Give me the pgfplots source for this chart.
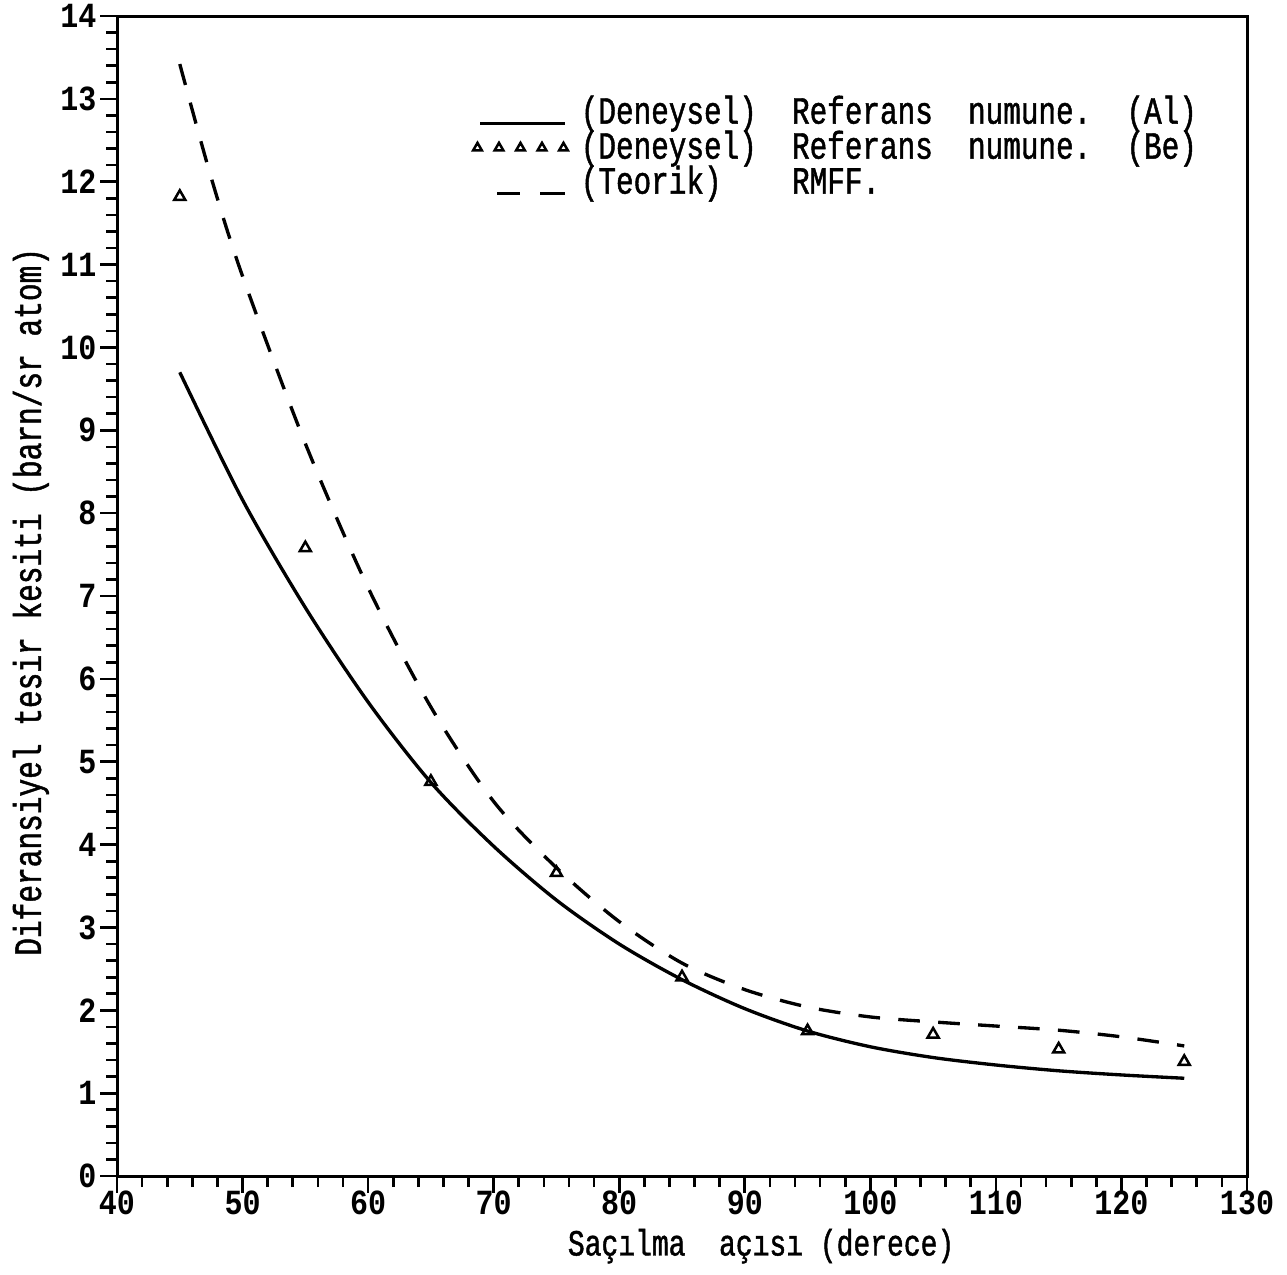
\documentclass[border=0pt]{standalone}
\usepackage{fontspec}
\setmainfont{Liberation Mono}[FakeStretch=0.85]
\newfontfamily\labfont{Liberation Mono}[FakeStretch=0.76, FakeBold=1.2]
\usepackage{pgfplots}
\pgfplotsset{compat=1.18}
\begin{document}
\begin{tikzpicture}
\begin{axis}[
  scale only axis, width=339pt, height=348pt,
  xmin=40, xmax=130, ymin=0, ymax=14,
  xtick={40,50,...,130}, ytick={0,1,...,14},
  minor x tick num=4, minor y tick num=4,
  tick align=outside, xtick pos=left, ytick pos=left,
  major tick length=5pt, minor tick length=3.3pt,
  axis line style={line width=0.9pt},
  every tick/.style={black, line width=0.8pt},
  /pgf/number format/assume math mode=true,
  xticklabel style={font=\bfseries\fontsize{10.6}{12}\selectfont, inner sep=0pt, yshift=0.8pt},
  yticklabel style={font=\bfseries\fontsize{10.6}{12}\selectfont, inner sep=1pt},
  xlabel={Saçılma~~açısı~(derece)},
  ylabel={Diferansiyel tesir kesiti (barn/sr atom)},
  xlabel style={font=\labfont\fontsize{11.05}{12}\selectfont, at={(axis description cs:0.570,-0.0685)}, anchor=base},
  ylabel style={font=\labfont\fontsize{11.64}{12}\selectfont, at={(axis description cs:-0.0673,0.495)}, anchor=base},
  legend style={at={(axis description cs:0.314,0.9296)}, anchor=north west, draw=none, fill=none,
    inner sep=0pt, column sep=2.5pt, row sep=0pt, font=\labfont\fontsize{11.58}{12}\selectfont,
    nodes={inner sep=0pt, text height=7.6pt, text depth=2.9pt}},
  legend cell align=left,
]
\addplot[line width=1pt, smooth,
  legend image code/.code={\path[draw=none, fill=none] (0pt,-3pt) rectangle (30pt,3pt);
    \draw[line width=0.9pt, solid] (2.4pt,-2.35pt) -- (27.9pt,-2.35pt);}]
  coordinates {(45,9.70) (50,8.16) (55,6.86) (60,5.72) (65,4.75) (70,3.98) (75,3.33) (80,2.80) (85,2.37) (90,2.02) (95,1.75) (100,1.56) (105,1.43) (110,1.34) (115,1.27) (120,1.22) (125,1.18)};
\addlegendentry{(Deneysel)~~Referans~~numune.~~(Al)}
\addplot[only marks, mark=triangle, mark size=1.9pt, mark options={line width=0.75pt, solid},
  legend image code/.code={\path[draw=none, fill=none] (0pt,-3pt) rectangle (30pt,3pt);
    \draw[line width=0.6pt] plot[only marks, mark=triangle, mark size=1.5pt] coordinates {(1.5pt,0.9pt) (7.95pt,0.9pt) (14.4pt,0.9pt) (20.85pt,0.9pt) (27.3pt,0.9pt)};}]
  coordinates {(45,11.82) (55,7.58) (65,4.76) (75,3.66) (85,2.40) (95,1.75) (105,1.71) (115,1.53) (125,1.38)};
\addlegendentry{(Deneysel)~~Referans~~numune.~~(Be)}
\addplot[line width=1pt, smooth, dash pattern=on 6.5pt off 5.5pt,
  legend image code/.code={\path[draw=none, fill=none] (0pt,-3pt) rectangle (30pt,3pt);
    \draw[line width=0.9pt, solid] (7.5pt,-2.35pt) -- (14.4pt,-2.35pt) (20.4pt,-2.35pt) -- (27.9pt,-2.35pt);}]
  coordinates {(45,13.42) (47.5,12.05) (50,10.86) (55,8.84) (60,7.10) (65,5.66) (70,4.52) (75,3.72) (80,3.07) (85,2.57) (90,2.25) (95,2.04) (100,1.92) (105,1.86) (110,1.81) (115,1.76) (120,1.68) (125,1.57)};
\addlegendentry{(Teorik)~~~~RMFF.}
\end{axis}
\path (current axis.south west) ++(-35.1pt,-27.6pt) rectangle ([shift={(12pt,4.8pt)}]current axis.north east);
\end{tikzpicture}
\end{document}
